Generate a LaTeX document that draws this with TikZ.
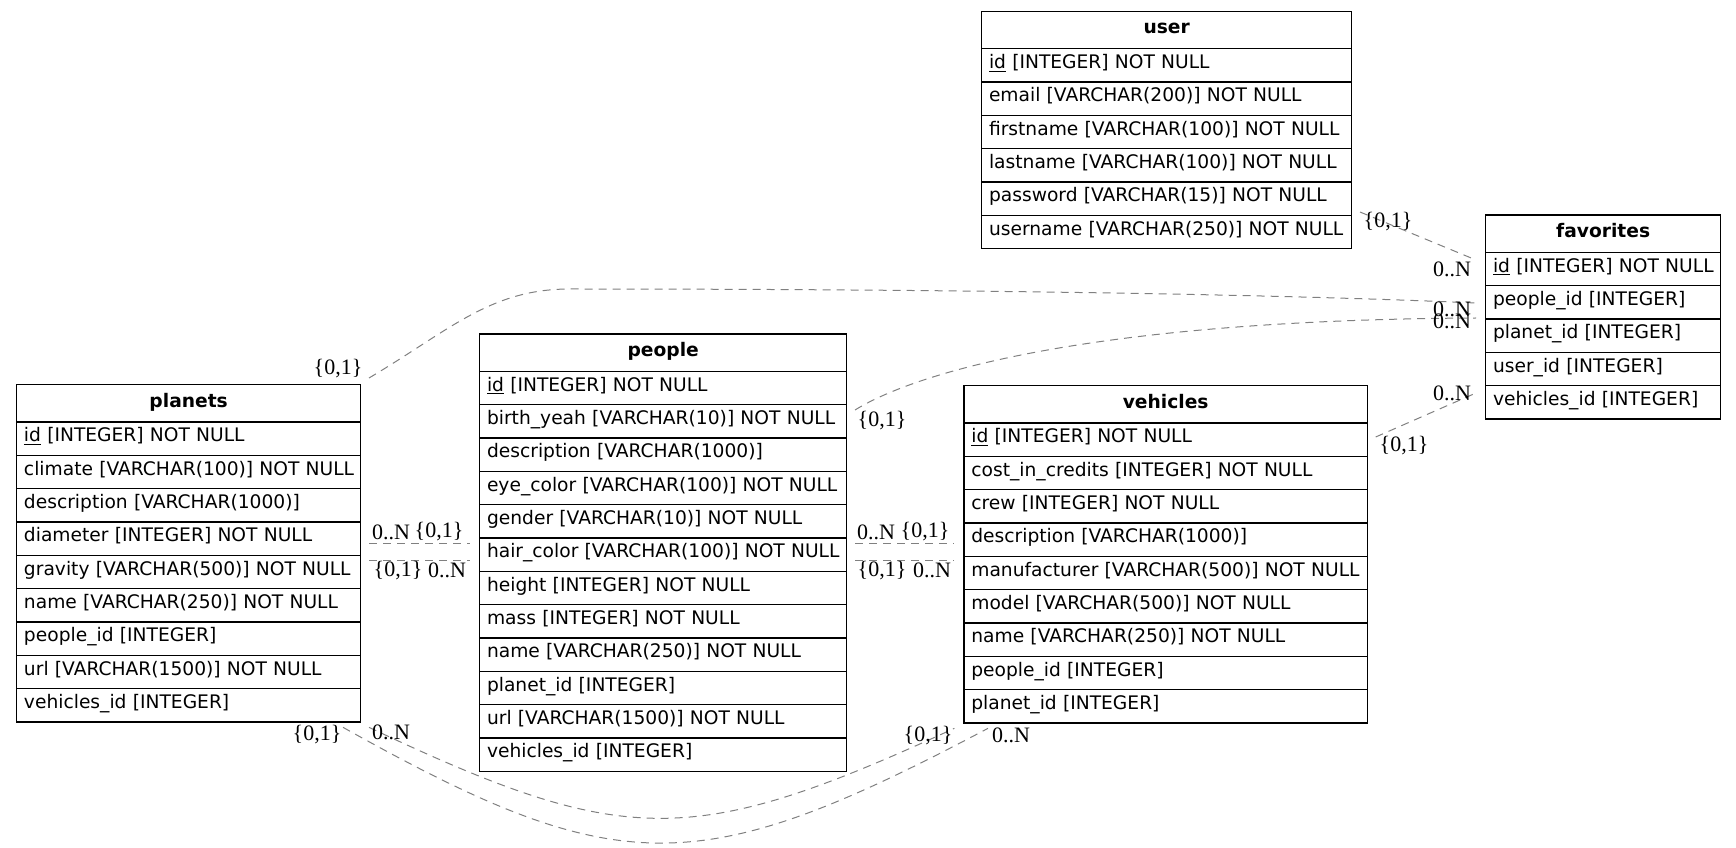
\documentclass[tikz,border=0pt]{standalone}
\usepackage{fontspec}
\setmainfont{DejaVu Sans}
\newfontfamily\cardfont{Liberation Serif}

\tikzset{every picture/.style={line width=0.75pt}}
\tikzset{
  tbl/.style={inner sep=0pt, outer xsep=6.75pt, outer ysep=4.5pt},
  tblhead/.style={draw, line width=1pt, anchor=north west, inner sep=0pt, minimum width=#1, minimum height=28pt, text height=9.5pt, text depth=3.5pt, font=\fontsize{14pt}{17pt}\selectfont\bfseries},
  tblrow/.style={draw, line width=1pt, anchor=north west, inner sep=0pt, text width=#1, minimum height=25pt, text height=9pt, text depth=4pt, align=left, font=\fontsize{14pt}{17pt}\selectfont, execute at begin node={\hspace*{5.5pt}}},
  rel/.style={draw=gray, line width=0.75pt, dash pattern=on 6pt off 4.5pt},
  card/.style={inner sep=0pt, font=\cardfont\fontsize{16.5pt}{18pt}\selectfont},
}

\begin{document}
\begin{tikzpicture}[x=0.75pt,y=0.75pt,yscale=-1,xscale=1]
\useasboundingbox (0,0) rectangle (1736,848);

%Table: user
\node [tbl, minimum width=277.5pt, minimum height=178pt] (user) at (1166,129.33) {};
\draw (981,10.67) node [tblhead=277.5pt] (user-head) {user};
\draw (981,48) node [tblrow=277.5pt] (user-1) {\underline{id} [INTEGER] NOT NULL};
\draw (981,81.33) node [tblrow=277.5pt] (user-2) {email [VARCHAR(200)] NOT NULL};
\draw (981,114.67) node [tblrow=277.5pt] (user-3) {firstname [VARCHAR(100)] NOT NULL};
\draw (981,148) node [tblrow=277.5pt] (user-4) {lastname [VARCHAR(100)] NOT NULL};
\draw (981,181.33) node [tblrow=277.5pt] (user-5) {password [VARCHAR(15)] NOT NULL};
\draw (981,214.67) node [tblrow=277.5pt] (user-6) {username [VARCHAR(250)] NOT NULL};

%Table: favorites
\node [tbl, minimum width=176.25pt, minimum height=153pt] (favorites) at (1602.5,316.33) {};
\draw (1485,214.33) node [tblhead=176.25pt] (favorites-head) {favorites};
\draw (1485,251.67) node [tblrow=176.25pt] (favorites-1) {\underline{id} [INTEGER] NOT NULL};
\draw (1485,285) node [tblrow=176.25pt] (favorites-2) {people\_id [INTEGER]};
\draw (1485,318.33) node [tblrow=176.25pt] (favorites-3) {planet\_id [INTEGER]};
\draw (1485,351.67) node [tblrow=176.25pt] (favorites-4) {user\_id [INTEGER]};
\draw (1485,385) node [tblrow=176.25pt] (favorites-5) {vehicles\_id [INTEGER]};

%Table: planets
\node [tbl, minimum width=258pt, minimum height=253pt] (planets) at (188,552.67) {};
\draw (16,384) node [tblhead=258pt] (planets-head) {planets};
\draw (16,421.33) node [tblrow=258pt] (planets-1) {\underline{id} [INTEGER] NOT NULL};
\draw (16,454.67) node [tblrow=258pt] (planets-2) {climate [VARCHAR(100)] NOT NULL};
\draw (16,488) node [tblrow=258pt] (planets-3) {description [VARCHAR(1000)]};
\draw (16,521.33) node [tblrow=258pt] (planets-4) {diameter [INTEGER] NOT NULL};
\draw (16,554.67) node [tblrow=258pt] (planets-5) {gravity [VARCHAR(500)] NOT NULL};
\draw (16,588) node [tblrow=258pt] (planets-6) {name [VARCHAR(250)] NOT NULL};
\draw (16,621.33) node [tblrow=258pt] (planets-7) {people\_id [INTEGER]};
\draw (16,654.67) node [tblrow=258pt] (planets-8) {url [VARCHAR(1500)] NOT NULL};
\draw (16,688) node [tblrow=258pt] (planets-9) {vehicles\_id [INTEGER]};

%Table: people
\node [tbl, minimum width=275.25pt, minimum height=328pt] (people) at (662.5,552) {};
\draw (479,333.33) node [tblhead=275.25pt] (people-head) {people};
\draw (479,370.67) node [tblrow=275.25pt] (people-1) {\underline{id} [INTEGER] NOT NULL};
\draw (479,404) node [tblrow=275.25pt] (people-2) {birth\_yeah [VARCHAR(10)] NOT NULL};
\draw (479,437.33) node [tblrow=275.25pt] (people-3) {description [VARCHAR(1000)]};
\draw (479,470.67) node [tblrow=275.25pt] (people-4) {eye\_color [VARCHAR(100)] NOT NULL};
\draw (479,504) node [tblrow=275.25pt] (people-5) {gender [VARCHAR(10)] NOT NULL};
\draw (479,537.33) node [tblrow=275.25pt] (people-6) {hair\_color [VARCHAR(100)] NOT NULL};
\draw (479,570.67) node [tblrow=275.25pt] (people-7) {height [INTEGER] NOT NULL};
\draw (479,604) node [tblrow=275.25pt] (people-8) {mass [INTEGER] NOT NULL};
\draw (479,637.33) node [tblrow=275.25pt] (people-9) {name [VARCHAR(250)] NOT NULL};
\draw (479,670.67) node [tblrow=275.25pt] (people-10) {planet\_id [INTEGER]};
\draw (479,704) node [tblrow=275.25pt] (people-11) {url [VARCHAR(1500)] NOT NULL};
\draw (479,737.33) node [tblrow=275.25pt] (people-12) {vehicles\_id [INTEGER]};

%Table: vehicles
\node [tbl, minimum width=302.5pt, minimum height=253pt] (vehicles) at (1165,553.67) {};
\draw (963.33,385) node [tblhead=302.5pt] (vehicles-head) {vehicles};
\draw (963.33,422.33) node [tblrow=302.5pt] (vehicles-1) {\underline{id} [INTEGER] NOT NULL};
\draw (963.33,455.67) node [tblrow=302.5pt] (vehicles-2) {cost\_in\_credits [INTEGER] NOT NULL};
\draw (963.33,489) node [tblrow=302.5pt] (vehicles-3) {crew [INTEGER] NOT NULL};
\draw (963.33,522.33) node [tblrow=302.5pt] (vehicles-4) {description [VARCHAR(1000)]};
\draw (963.33,555.67) node [tblrow=302.5pt] (vehicles-5) {manufacturer [VARCHAR(500)] NOT NULL};
\draw (963.33,589) node [tblrow=302.5pt] (vehicles-6) {model [VARCHAR(500)] NOT NULL};
\draw (963.33,622.33) node [tblrow=302.5pt] (vehicles-7) {name [VARCHAR(250)] NOT NULL};
\draw (963.33,655.67) node [tblrow=302.5pt] (vehicles-8) {people\_id [INTEGER]};
\draw (963.33,689) node [tblrow=302.5pt] (vehicles-9) {planet\_id [INTEGER]};

% Connector: user - favorites
\draw [rel] (user.east |- 0,212) -- (favorites.west |- 0,260);
\node [card] (user-fav-a) at (1388,222) {\{0,1\}};
\node [card] (user-fav-b) at (1452,269) {0..N};

% Connector: planets - favorites
\draw [rel] (planets.north east) .. controls (450,330) and (490,289) .. (570,289) .. controls (900,289) and (1250,293) .. (favorites.west |- 0,303);
\node [card] (pla-fav-a) at (338,369) {\{0,1\}};
\node [card] (pla-fav-b) at (1452,309) {0..N};

% Connector: people - favorites
\draw [rel] (people.east |- 0,410) .. controls (920,370) and (1100,320) .. (favorites.west |- 0,318);
\node [card] (peo-fav-a) at (882,421) {\{0,1\}};
\node [card] (peo-fav-b) at (1452,321) {0..N};

% Connector: vehicles - favorites
\draw [rel] (vehicles.east |- 0,437) -- (favorites.west |- 0,393);
\node [card] (veh-fav-a) at (1404,446) {\{0,1\}};
\node [card] (veh-fav-b) at (1452,393.5) {0..N};

% Connectors: planets - people
\draw [rel] (planets.east |- 0,543.3) -- (people.west |- 0,543.3);
\node [card] (pla-peo-a) at (391,532.5) {0..N};
\node [card] (pla-peo-b) at (439,532) {\{0,1\}};
\draw [rel] (planets.east |- 0,560) -- (people.west |- 0,560);
\node [card] (pla-peo-c) at (398,571) {\{0,1\}};
\node [card] (pla-peo-d) at (447,570) {0..N};

% Connectors: people - vehicles
\draw [rel] (people.east |- 0,544) -- (vehicles.west |- 0,544);
\node [card] (peo-veh-a) at (876,532.5) {0..N};
\node [card] (peo-veh-b) at (925,532) {\{0,1\}};
\draw [rel] (people.east |- 0,560) -- (vehicles.west |- 0,560);
\node [card] (peo-veh-c) at (882,570.5) {\{0,1\}};
\node [card] (peo-veh-d) at (932,570) {0..N};

% Connectors: planets - vehicles
\draw [rel] (planets.south -| 343,0) .. controls (618,881) and (698,882) .. (vehicles.south -| 988,0);
\node [card] (pla-veh-a) at (317,735) {\{0,1\}};
\node [card] (pla-veh-b) at (1011,735) {0..N};
\draw [rel] (planets.south east) .. controls (625,848) and (692,849) .. (vehicles.south west);
\node [card] (pla-veh-c) at (391,732) {0..N};
\node [card] (pla-veh-d) at (928,736) {\{0,1\}};

\end{tikzpicture}
\end{document}
